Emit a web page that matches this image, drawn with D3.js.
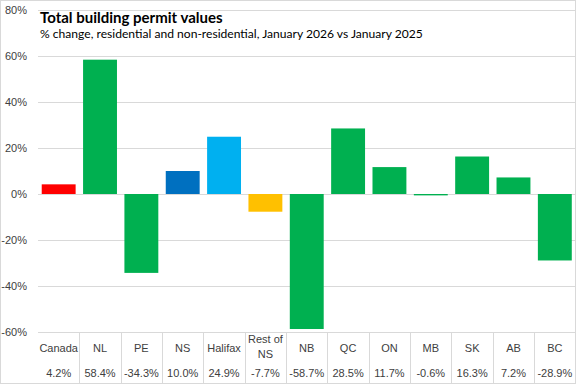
<!DOCTYPE html>
<html>
<head>
<meta charset="utf-8">
<script src="https://cdn.jsdelivr.net/npm/d3@7"></script>
<style>
  body { margin: 0; background: #fff; }
  text { font-family: "Liberation Sans", Arial, sans-serif; }
</style>
</head>
<body>
<script>
// data
const categories = ["Canada", "NL", "PE", "NS", "Halifax", "Rest of NS", "NB", "QC", "ON", "MB", "SK", "AB", "BC"];
const changes = [4.2, 58.4, -34.3, 10.0, 24.9, -7.7, -58.7, 28.5, 11.7, -0.6, 16.3, 7.2, -28.9];
const barColors = ["#ff0000", "#00b050", "#00b050", "#0070c0", "#00b0f0", "#ffc000", "#00b050", "#00b050", "#00b050", "#00b050", "#00b050", "#00b050", "#00b050"];
const yTicks = [-60, -40, -20, 0, 20, 40, 60, 80];

const title = "Total building permit values";
const subtitle = "% change, residential and non-residential, January 2026 vs January 2025";

// width and height
const w = 577;
const h = 385;
const plotLeft = 38;
const plotRight = 575.5;
const plotTop = 10;
const plotBottom = 332;
const tableBottom = 383.5;

const data = categories.map((c, i) => ({ name: c, value: changes[i], color: barColors[i] }));

const xScale = d3
  .scaleBand()
  .domain(categories)
  .range([plotLeft, plotRight])
  .paddingInner(0.18)
  .paddingOuter(0.09);

const yScale = d3
  .scaleLinear()
  .domain([-60, 80])
  .range([plotBottom, plotTop]);

const svg = d3
  .select("body")
  .append("svg")
  .attr("width", w)
  .attr("height", h);

// chart border
svg
  .append("rect")
  .attr("x", 0.5)
  .attr("y", 0.5)
  .attr("width", 575)
  .attr("height", 383)
  .attr("fill", "#fff")
  .attr("stroke", "#d9d9d9");

// y axis with gridlines
const yAxis = d3
  .axisLeft(yScale)
  .tickValues(yTicks)
  .tickSize(-(plotRight - plotLeft))
  .tickPadding(11)
  .tickFormat((d) => d + "%");

const yG = svg
  .append("g")
  .attr("class", "y axis")
  .attr("transform", `translate(${plotLeft},0)`)
  .call(yAxis);

yG.select(".domain").remove();
yG.selectAll(".tick line").attr("stroke", "#d9d9d9");
yG.selectAll(".tick text")
  .attr("fill", "#404040")
  .attr("font-size", 11);

// bars
svg
  .append("g")
  .attr("id", "bars")
  .selectAll("rect")
  .data(data)
  .enter()
  .append("rect")
  .attr("x", (d) => xScale(d.name))
  .attr("width", xScale.bandwidth())
  .attr("y", (d) => yScale(Math.max(0, d.value)))
  .attr("height", (d) => Math.abs(yScale(d.value) - yScale(0)))
  .attr("fill", (d) => d.color);

// data table under the chart
const step = xScale.step();
const table = svg.append("g").attr("id", "table");

table
  .selectAll("line")
  .data(categories.slice(1))
  .enter()
  .append("line")
  .attr("x1", (d) => Math.round(xScale(d) - (step * 0.18) / 2) + 0.5)
  .attr("x2", (d) => Math.round(xScale(d) - (step * 0.18) / 2) + 0.5)
  .attr("y1", plotBottom)
  .attr("y2", tableBottom)
  .attr("stroke", "#d9d9d9");

const cells = table
  .selectAll("g.cell")
  .data(data)
  .enter()
  .append("g")
  .attr("class", "cell")
  .attr("transform", (d) => `translate(${xScale(d.name) + xScale.bandwidth() / 2},0)`);

cells.each(function (d) {
  const g = d3.select(this);
  const lines = d.name === "Rest of NS" ? ["Rest of", "NS"] : [d.name];
  lines.forEach((line, i) => {
    g.append("text")
      .attr("y", lines.length > 1 ? 343 + i * 15 : 352)
      .attr("text-anchor", "middle")
      .attr("font-size", 11)
      .attr("fill", "#404040")
      .text(line);
  });
  g.append("text")
    .attr("y", 377)
    .attr("text-anchor", "middle")
    .attr("font-size", 11)
    .attr("fill", "#404040")
    .text(d.value.toFixed(1) + "%"); // plain hyphen for negatives
});

// titles
svg
  .append("text")
  .attr("x", 40)
  .attr("y", 23)
  .attr("font-weight", "bold")
  .attr("font-size", 15)
  .attr("fill", "#000")
  .style("font-family", "Lato, 'Noto Sans', sans-serif")
  .text(title);

svg
  .append("text")
  .attr("x", 40)
  .attr("y", 38)
  .attr("font-size", 12.1)
  .attr("fill", "#000")
  .style("font-family", "Lato, 'Noto Sans', sans-serif")
  .text(subtitle);
</script>
</body>
</html>
